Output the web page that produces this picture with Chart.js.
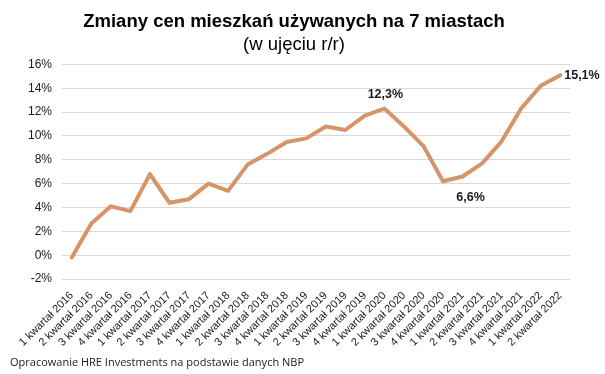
<!DOCTYPE html>
<html>
<head>
<meta charset="utf-8">
<script src="https://cdn.jsdelivr.net/npm/chart.js@4/dist/chart.umd.min.js"></script>
<style>
  html, body { margin: 0; padding: 0; background: #fff; }
  #wrap { width: 605px; height: 374px; position: relative; }
</style>
</head>
<body>
<div id="wrap"><canvas id="goodCanvas1" width="605" height="374"></canvas></div>
<script>
const quarters = [];
const years = [2016, 2017, 2018, 2019, 2020, 2021, 2022];
years.forEach(y => {
  for (let q = 1; q <= 4; q++) {
    if (y === 2022 && q > 2) break;
    quarters.push(q + ' kwartał ' + y);
  }
});

const changeYoY = [
  -0.2, 2.65, 4.1, 3.7, 6.8, 4.4, 4.7, 6.0, 5.4, 7.6, 8.5, 9.5, 9.8,
  10.8, 10.5, 11.7, 12.3, 10.8, 9.15, 6.2, 6.6, 7.7, 9.55, 12.3, 14.2, 15.1
];

// which points get a value label, and where
const labelled = [
  { i: 16, text: '12,3%', pos: 'above' },
  { i: 20, text: '6,6%', pos: 'below' },
  { i: 25, text: '15,1%', pos: 'right' }
];

const pointLabels = {
  id: 'pointLabels',
  afterDatasetsDraw(chart) {
    const { ctx } = chart;
    const meta = chart.getDatasetMeta(0);
    ctx.save();
    ctx.font = 'bold 12.5px "Liberation Sans", Arial, sans-serif';
    ctx.fillStyle = '#1a1a1a';
    labelled.forEach(l => {
      const p = meta.data[l.i];
      if (l.pos === 'above') {
        ctx.textAlign = 'center';
        ctx.textBaseline = 'bottom';
        ctx.fillText(l.text, p.x + 1, p.y - 8);
      } else if (l.pos === 'below') {
        ctx.textAlign = 'center';
        ctx.textBaseline = 'top';
        ctx.fillText(l.text, p.x + 8, p.y + 15);
      } else {
        ctx.textAlign = 'left';
        ctx.textBaseline = 'middle';
        ctx.fillText(l.text, p.x + 4, p.y);
      }
    });
    ctx.restore();
  }
};

const footer = {
  id: 'footer',
  afterDraw(chart) {
    const { ctx } = chart;
    ctx.save();
    ctx.font = '11px "Open Sans", "DejaVu Sans", sans-serif';
    ctx.fillStyle = '#1a1a1a';
    ctx.textAlign = 'left';
    ctx.textBaseline = 'middle';
    ctx.fillText('Opracowanie HRE Investments na podstawie danych NBP', 10, 363);
    ctx.restore();
  }
};

new Chart(document.getElementById('goodCanvas1'), {
  type: 'line',
  data: {
    labels: quarters,
    datasets: [{
      label: 'r/r',
      data: changeYoY,
      borderColor: 'rgb(214, 149, 104)',
      backgroundColor: 'rgb(214, 149, 104)',
      borderWidth: 4,
      pointRadius: 0,
      tension: 0,
      borderJoinStyle: 'round',
      borderCapStyle: 'round'
    }]
  },
  options: {
    responsive: false,
    animation: false,
    devicePixelRatio: 1,
    layout: { padding: { left: 18, right: 35, top: 2, bottom: 23 } },
    plugins: {
      legend: { display: false },
      tooltip: { enabled: false },
      title: {
        display: true,
        text: 'Zmiany cen mieszkań używanych na 7 miastach',
        color: '#000',
        font: { family: '"Liberation Sans", Arial, sans-serif', size: 18.5, weight: 'bold' },
        padding: { top: 9, bottom: 1 }
      },
      subtitle: {
        display: true,
        text: '(w ujęciu r/r)',
        color: '#000',
        font: { family: '"Liberation Sans", Arial, sans-serif', size: 18.5 },
        padding: { bottom: 8 }
      }
    },
    scales: {
      y: {
        min: -2,
        max: 16,
        ticks: {
          stepSize: 2,
          callback: v => v + '%',
          color: '#1a1a1a',
          padding: 10,
          font: { family: '"Liberation Sans", Arial, sans-serif', size: 12 }
        },
        grid: { color: '#d9d9d9', drawTicks: false },
        border: { display: false }
      },
      x: {
        offset: true,
        ticks: {
          autoSkip: false,
          maxRotation: 45,
          minRotation: 45,
          color: '#1a1a1a',
          padding: 2,
          font: { family: '"Liberation Sans", Arial, sans-serif', size: 11 }
        },
        grid: { display: false },
        border: { display: false }
      }
    }
  },
  plugins: [pointLabels, footer]
});
</script>
</body>
</html>
